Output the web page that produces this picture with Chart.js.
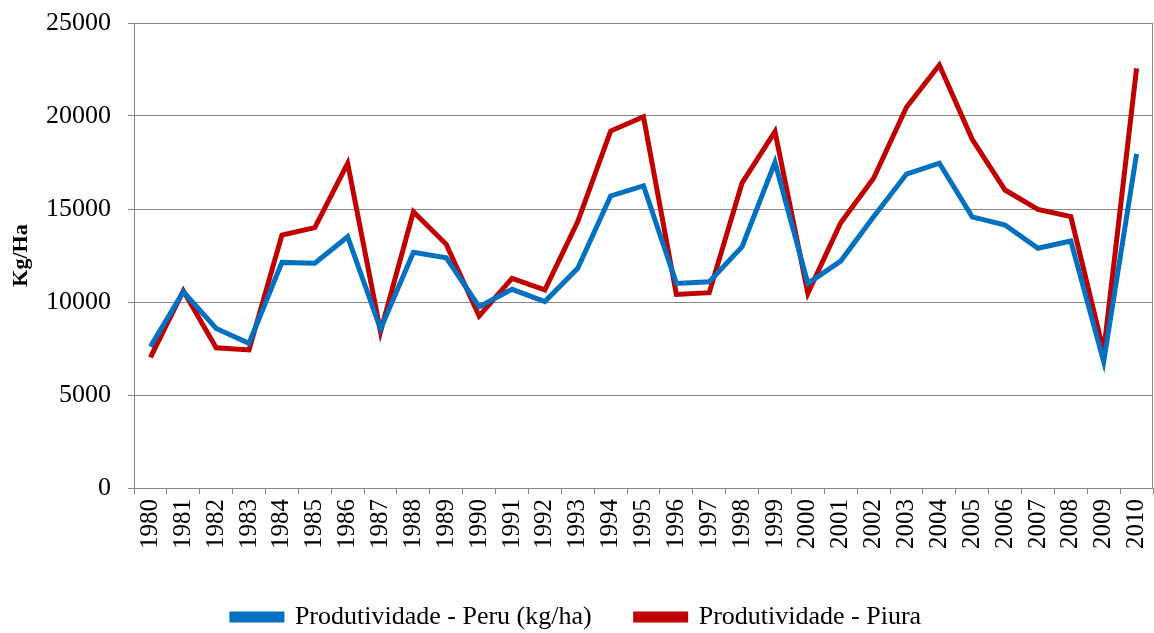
<!DOCTYPE html>
<html>
<head>
<meta charset="utf-8">
<script src="https://cdn.jsdelivr.net/npm/chart.js@4/dist/chart.umd.min.js"></script>
<style>
  body { margin: 0; background: #fff; }
  #wrap { width: 1154px; height: 633px; overflow: hidden; }
</style>
</head>
<body>
<div id="wrap"><canvas id="line-chart" width="1154" height="633"></canvas></div>
<script>
const anos = [
  "1980","1981","1982","1983","1984","1985","1986","1987","1988","1989",
  "1990","1991","1992","1993","1994","1995","1996","1997","1998","1999",
  "2000","2001","2002","2003","2004","2005","2006","2007","2008","2009","2010"
];
const produtividadePeru = [
  7600, 10550, 8580, 7780, 12130, 12080, 13510, 8550, 12670, 12380,
  9750, 10680, 10020, 11810, 15700, 16250, 11000, 11090, 12970, 17510,
  11000, 12200, 14580, 16880, 17460, 14580, 14140, 12890, 13280, 6790, 17960
];
const produtividadePiura = [
  7020, 10600, 7540, 7420, 13600, 14000, 17460, 8400, 14850, 13100,
  9250, 11270, 10650, 14320, 19190, 19960, 10410, 10500, 16410, 19160,
  10470, 14260, 16650, 20470, 22740, 18750, 16020, 14980, 14590, 7330, 22560
];
const ticksY = [0, 5000, 10000, 15000, 20000, 25000];

const fonteSerif = "'Liberation Serif', 'Times New Roman', serif";

// borda direita da area do grafico
const bordaDireita = {
  id: "bordaDireita",
  afterDraw(chart) {
    const { ctx, chartArea } = chart;
    ctx.save();
    ctx.strokeStyle = "#868686";
    ctx.lineWidth = 1;
    ctx.beginPath();
    ctx.moveTo(chartArea.right - 0.5, chartArea.top);
    ctx.lineTo(chartArea.right - 0.5, chartArea.bottom);
    ctx.stroke();
    ctx.restore();
  }
};

const contenedorLineChart = document.querySelector("#line-chart").getContext("2d");

const lineChart = new Chart(contenedorLineChart, {
  type: "line",
  data: {
    labels: anos,
    datasets: [
      {
        label: "Produtividade - Peru (kg/ha)",
        data: produtividadePeru,
        borderColor: "#0070C0",
        backgroundColor: "#0070C0",
        borderWidth: 5,
        pointRadius: 0,
        tension: 0
      },
      {
        label: "Produtividade - Piura",
        data: produtividadePiura,
        borderColor: "#C00000",
        backgroundColor: "#C00000",
        borderWidth: 5,
        pointRadius: 0,
        tension: 0
      }
    ]
  },
  options: {
    responsive: false,
    animation: false,
    // bottom negativo para a legenda ficar perto da borda
    layout: { padding: { top: 23, right: 1, left: 0, bottom: -7 } },
    plugins: {
      tooltip: { enabled: false },
      legend: {
        position: "bottom",
        labels: {
          font: { family: fonteSerif, size: 26 },
          color: "#000",
          boxWidth: 50,
          boxHeight: 6,
          padding: 44
        }
      }
    },
    scales: {
      x: {
        offset: true,
        afterFit(axis) {
          axis.height = 72;
          axis.paddingLeft = 0;
          axis.paddingRight = 0;
        },
        grid: {
          offset: true,
          drawOnChartArea: false,
          color: "#868686",
          tickLength: 6
        },
        border: { color: "#868686", width: 1 },
        ticks: {
          font: { family: fonteSerif, size: 25 },
          color: "#000",
          minRotation: 90,
          maxRotation: 90,
          autoSkip: false,
          padding: 5
        }
      },
      y: {
        min: 0,
        max: 25000,
        afterBuildTicks(axis) {
          axis.ticks = ticksY.map(v => ({ value: v }));
        },
        afterFit(axis) {
          axis.width = 134;
          axis.paddingTop = 0;
          axis.paddingBottom = 0;
        },
        grid: {
          color: "#868686",
          tickLength: 6
        },
        border: { color: "#868686", width: 1 },
        ticks: {
          font: { family: fonteSerif, size: 26 },
          color: "#000",
          padding: 17,
          callback: v => String(v)
        },
        title: {
          display: true,
          text: "Kg/Ha",
          font: { family: fonteSerif, size: 22, weight: "bold" },
          color: "#000",
          padding: 8
        }
      }
    }
  },
  plugins: [bordaDireita]
});
</script>
</body>
</html>
